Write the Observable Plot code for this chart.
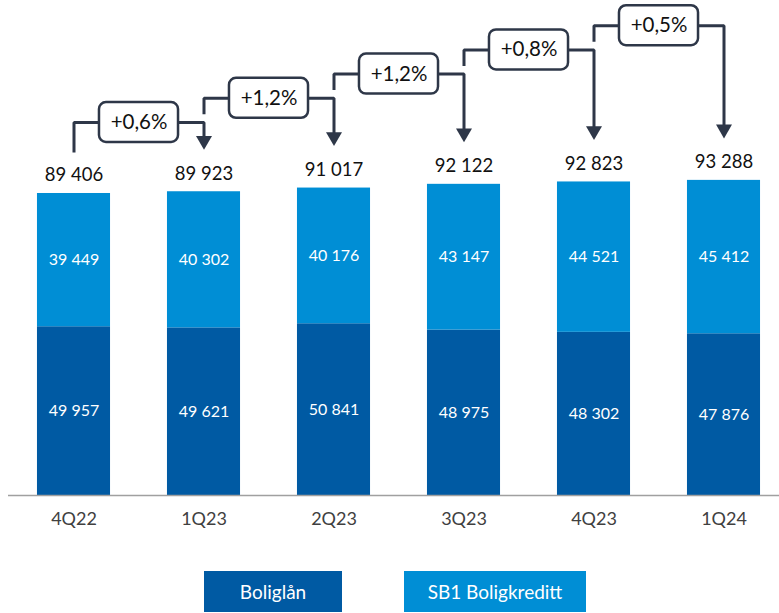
<!DOCTYPE html>
<html>
<head>
<meta charset="utf-8">
<script src="https://cdn.jsdelivr.net/npm/d3@7"></script>
<script src="https://cdn.jsdelivr.net/npm/@observablehq/plot@0.6"></script>
<style>
  html, body { margin: 0; padding: 0; background: #fff; }
  #wrap { width: 779px; position: relative; font-family: Lato, "Open Sans", sans-serif; }
  #legend { position: relative; height: 68px; }
  .lg { position: absolute; top: 26px; height: 41px; color: #fff; font-size: 19px;
        display: flex; align-items: center; justify-content: center; font-family: Lato, sans-serif; }
</style>
</head>
<body>
<div id="wrap"><div id="chart"></div><div id="legend"></div></div>
<script>
const quarters = ["4Q22", "1Q23", "2Q23", "3Q23", "4Q23", "1Q24"];
const boliglan = [49957, 49621, 50841, 48975, 48302, 47876];
const boligkreditt = [39449, 40302, 40176, 43147, 44521, 45412];
const totals = [89406, 89923, 91017, 92122, 92823, 93288];
const growth = ["+0,6%", "+1,2%", "+1,2%", "+0,8%", "+0,5%"];
const seriesNames = ["Boliglån", "SB1 Boligkreditt"];
const colors = ["#005AA3", "#008ED5"];
const arrowColor = "#2E3748";

const W = 779, H = 545, MB = 50;
const plotH = H - MB;               // 495 px of plot area
const yMax = 146540;                // y domain top
const k = yMax / plotH;             // data units per pixel

// stacked rows
const rows = [];
quarters.forEach((q, i) => {
  rows.push({i, series: seriesNames[0], y1: 0, y2: boliglan[i], v: boliglan[i]});
  rows.push({i, series: seriesNames[1], y1: boliglan[i], y2: boliglan[i] + boligkreditt[i], v: boligkreditt[i]});
});

const fmt = v => d3.format(",")(v).replace(/,/g, " ");
const halfBar = 0.281;

// connector arrows between consecutive quarters
const arrowBase = 110420, arrowStep = 7165;
const arrowPts = [], boxes = [], heads = [];
growth.forEach((g, i) => {
  const level = arrowBase + i * arrowStep;
  const start = level - (i === 0 ? 30 : 16) * k;
  const tip = totals[i + 1] + 42 * k;
  const centroid = tip + 9.2 * k;
  arrowPts.push({a: i, x: i, y: start}, {a: i, x: i, y: level}, {a: i, x: i + 1, y: level}, {a: i, x: i + 1, y: centroid});
  heads.push({x: i + 1, y: centroid});
  boxes.push({x1: i + 0.5 - 0.304, x2: i + 0.5 + 0.304, y1: level - 20 * k, y2: level + 20 * k, xm: i + 0.5, y: level, label: g});
});

const chart = Plot.plot({
  width: W, height: H,
  marginTop: 0, marginBottom: MB, marginLeft: 8, marginRight: 0,
  style: {fontFamily: "Lato, 'Open Sans', sans-serif", background: "#fff"},
  x: {domain: [-0.5, 5.5], range: [8.5, 788.5]},
  y: {domain: [0, yMax], axis: null},
  color: {domain: seriesNames, range: colors},
  marks: [
    Plot.rect(rows, {x1: d => d.i - halfBar, x2: d => d.i + halfBar, y1: "y1", y2: "y2", fill: "series"}),
    Plot.text(rows, {x: "i", y: d => (d.y1 + d.y2) / 2, text: d => fmt(d.v), fill: "#fff", fontSize: 16}),
    Plot.text(totals, {x: (d, i) => i, y: d => d, text: d => fmt(d), dy: -18, fill: "#111", fontSize: 18.5}),
    Plot.ruleY([0], {stroke: "#a0a0a0", strokeWidth: 1.5}),
    Plot.axisX({ticks: d3.range(quarters.length), tickFormat: i => quarters[i], tickSize: 0, tickPadding: 17, fontSize: 18, color: "#404040", label: null}),
    Plot.line(arrowPts, {x: "x", y: "y", z: "a", stroke: arrowColor, strokeWidth: 3, strokeLinejoin: "miter", strokeLinecap: "butt", curve: "linear"}),
    Plot.dot(heads, {x: "x", y: "y", symbol: "triangle", r: 5.94, rotate: 180, fill: arrowColor, stroke: "none"}),
    Plot.rect(boxes, {x1: "x1", x2: "x2", y1: "y1", y2: "y2", fill: "#fff", stroke: arrowColor, strokeWidth: 2.5, rx: 7}),
    Plot.text(boxes, {x: "xm", y: "y", text: "label", fill: "#111", fontSize: 20.5})
  ]
});
document.getElementById("chart").appendChild(chart);

const legend = document.getElementById("legend");
const lgPos = [{left: 204, width: 138}, {left: 404, width: 182}];
seriesNames.forEach((s, i) => {
  const d = document.createElement("div");
  d.className = "lg";
  d.style.left = lgPos[i].left + "px";
  d.style.width = lgPos[i].width + "px";
  d.style.background = colors[i];
  d.textContent = s;
  legend.appendChild(d);
});
</script>
</body>
</html>
